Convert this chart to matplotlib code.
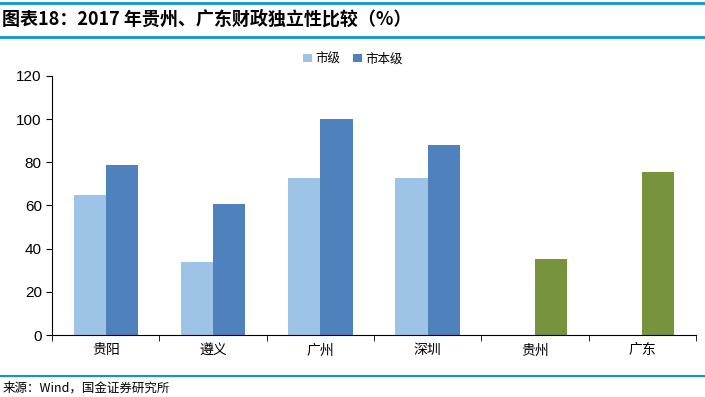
import matplotlib.pyplot as plt
import numpy as np

plt.rcParams['font.family'] = ['Liberation Sans', 'Noto Sans CJK SC']

cats = ["贵阳", "遵义", "广州", "深圳", "贵州", "广东"]
city = [65, 34, 72.5, 72.5, np.nan, np.nan]          # 市级
city_self = [78.5, 60.7, 99.8, 88.2, np.nan, np.nan]  # 市本级
province = [np.nan, np.nan, np.nan, np.nan, 35.2, 75.6]

fig = plt.figure(figsize=(7.05, 3.97), dpi=100)
ax = fig.add_axes([0.074, 0.156, 0.913, 0.653])

x = np.arange(len(cats))
w = 0.30
ax.bar(x - w/2, city, w, color="#9DC3E6", label="市级")
ax.bar(x + w/2, city_self, w, color="#4F81BD", label="市本级")
ax.bar(x + w/2, province, w, color="#77933C")

ax.set_xlim(-0.5, len(cats) - 0.5)
ax.set_ylim(0, 120)
ax.set_yticks(range(0, 121, 20))
ax.set_xticks(x)
ax.set_xticklabels(cats, fontsize=10, family=['Noto Sans CJK SC'])
ax.set_xticks(np.arange(-0.5, len(cats)), minor=True)
ax.tick_params(axis='x', which='major', length=0, pad=6)
ax.tick_params(axis='x', which='minor', length=4, direction='out')
ax.tick_params(axis='y', labelsize=11, length=4)
for s in ["top", "right"]:
    ax.spines[s].set_visible(False)

leg = ax.legend(loc="center", bbox_to_anchor=(0.467, 1.065), ncol=2, frameon=False,
                handlelength=0.7, handleheight=0.7, handletextpad=0.3, columnspacing=1.0,
                prop={'family': 'Noto Sans CJK SC', 'size': 9})

# title and source
fig.lines.append(plt.Line2D([0, 1], [0.992, 0.992], color="#0A96DC", lw=2, transform=fig.transFigure))
fig.lines.append(plt.Line2D([0, 1], [0.908, 0.908], color="#0A96DC", lw=2, transform=fig.transFigure))
fig.lines.append(plt.Line2D([0, 1], [0.053, 0.053], color="#0A96DC", lw=1.5, transform=fig.transFigure))
fig.text(0.003, 0.952, "图表18：2017 年贵州、广东财政独立性比较（%）", fontsize=13, fontweight='bold',
         fontstyle='italic', va='center', family=['Noto Sans CJK SC'])
fig.text(0.003, 0.022, "来源：Wind，国金证券研究所", fontsize=9, va='center', family=['Noto Sans CJK SC'])

fig.savefig("out.png", dpi=100)
